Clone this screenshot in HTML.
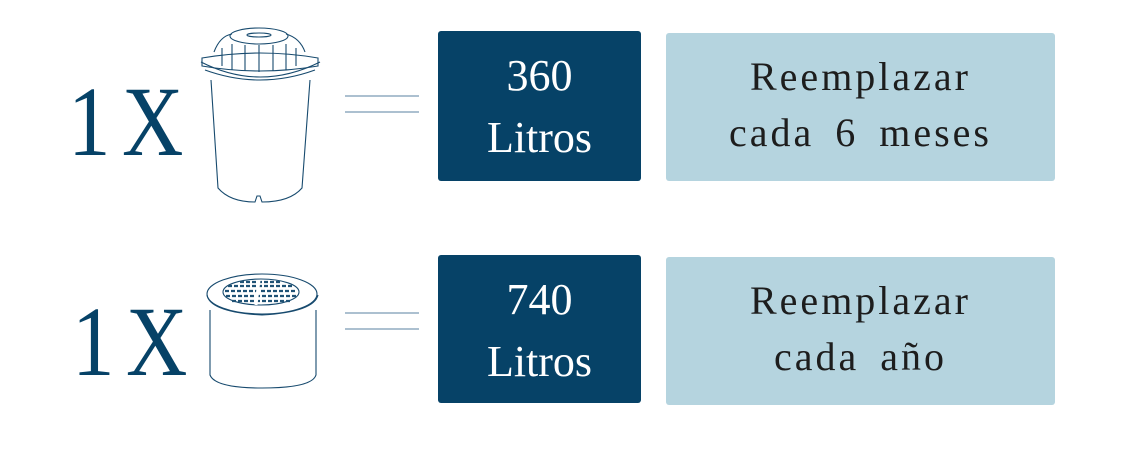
<!DOCTYPE html>
<html><head><meta charset="utf-8"><style>
html,body{margin:0;padding:0;background:#fff;width:1125px;height:453px;overflow:hidden;font-family:"Liberation Serif",serif}
.a{position:absolute}
.dk{background:#064267;border-radius:3px;color:#fff;text-align:center;font-size:44px;line-height:62px}
.lt{background:#b5d4df;border-radius:3px;color:#1d1d1d;text-align:center;font-size:40px;line-height:56px;letter-spacing:3px;word-spacing:8px}
.one{color:#064267;font-size:100px;line-height:100px;transform-origin:0 0;transform:scaleX(0.85)}
</style></head><body>
<div class="a one" style="left:68px;top:72px">1</div>
<div class="a one" style="left:122px;top:72px">X</div>
<div class="a one" style="left:72px;top:292px">1</div>
<div class="a one" style="left:126px;top:292px">X</div>
<div class="a dk" style="left:438px;top:31px;width:203px;height:150px;padding-top:14px;box-sizing:border-box">360<br>Litros</div>
<div class="a dk" style="left:438px;top:255px;width:203px;height:148px;padding-top:14px;box-sizing:border-box">740<br>Litros</div>
<div class="a lt" style="left:666px;top:33px;width:389px;height:148px;padding-top:16px;box-sizing:border-box">Reemplazar<br>cada 6 meses</div>
<div class="a lt" style="left:666px;top:257px;width:389px;height:148px;padding-top:16px;box-sizing:border-box">Reemplazar<br>cada año</div>
<svg class="a" style="left:0;top:0" width="1125" height="453" fill="none" stroke="#174a6e" stroke-width="1.1">
<line x1="345" y1="96" x2="419" y2="96" stroke="#5a82a0"/><line x1="345" y1="112" x2="419" y2="112" stroke="#5a82a0"/>
<line x1="345" y1="313" x2="419" y2="313" stroke="#5a82a0"/><line x1="345" y1="329" x2="419" y2="329" stroke="#5a82a0"/>
<!-- filter 1 -->
<ellipse cx="259" cy="36" rx="29" ry="8"/>
<ellipse cx="259" cy="35" rx="12" ry="2"/>
<path d="M214 52 Q220 36 232 34 M286 34 Q300 38 305 52"/>
<path d="M202 58 Q260 48 318 58 L318 66 Q260 76 202 66 Z"/>
<path d="M201 62 Q260 92 320 62 M205 70 Q260 90 315 70"/>
<path d="M222 48 L222 66 M232 44 L232 70 M245 45 L245 71 M259 45 L259 72 M273 45 L273 71 M286 44 L286 70 M296 48 L296 66"/>
<path d="M211 80 L218 188 Q230 202 255 202 L257 196 L260 196 L262 202 Q290 202 302 188 L310 80"/>
<!-- filter 2 -->
<ellipse cx="262" cy="294" rx="55" ry="20"/>
<ellipse cx="261" cy="292" rx="38" ry="13" fill="#fff"/>
<g stroke="#1f5275" stroke-width="2.2" stroke-dasharray="4 2">
<line x1="228" y1="286" x2="294" y2="286"/><line x1="225" y1="291" x2="297" y2="291"/><line x1="226" y1="296" x2="296" y2="296"/><line x1="232" y1="301" x2="290" y2="301"/><line x1="240" y1="282" x2="282" y2="282"/>
</g>
<line x1="259" y1="280" x2="256" y2="305" stroke="#fff" stroke-width="3"/>
<path d="M207 295 Q210 312 262 315 Q314 312 318 295"/>
<path d="M210 310 L210 375 Q215 388 262 388 Q312 388 316 375 L316 310"/>
</svg>
</body></html>
